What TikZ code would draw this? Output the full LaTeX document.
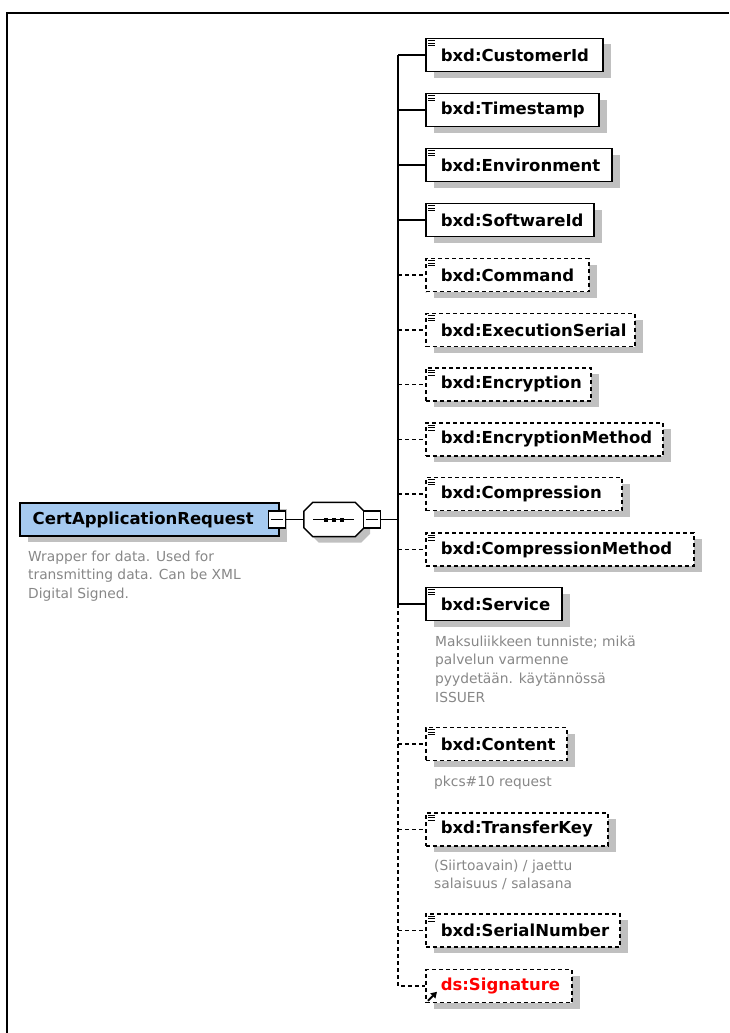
\documentclass[tikz,border=0pt]{standalone}
\usepackage{fontspec}
\setmainfont{DejaVu Sans}
\usetikzlibrary{shadows,arrows.meta}
\definecolor{shadowgray}{RGB}{192,192,192}
\definecolor{rootblue}{RGB}{166,202,240}
\definecolor{desccol}{RGB}{135,135,135}
\definecolor{sigred}{RGB}{255,0,0}
\newcommand{\nameFont}{\fontsize{16.5}{20}\selectfont\bfseries}
\newcommand{\descFont}{\fontsize{13.8}{18.7}\selectfont}
\newcommand{\simpicon}[1]{%
  \draw[iconline] ([shift={(3,3)}]#1.north west) -- ++(7,0)
                  ([shift={(3,5.5)}]#1.north west) -- ++(7,0)
                  ([shift={(3,8)}]#1.north west) -- ++(7,0);}
\tikzset{
  boxshadow/.style={drop shadow={shadow xshift=8pt, shadow yshift=-6pt, fill=shadowgray, opacity=1}},
  elembox/.style={draw, line width=1.5pt, fill=white, boxshadow, anchor=west,
    minimum height=33pt, inner xsep=0pt, inner ysep=0pt, text width=#1pt,
    align=left, font=\nameFont},
  optbox/.style={elembox=#1, dash pattern=on 4pt off 3pt},
  conn/.style={line width=1.3pt},
  optconn/.style={line width=1.3pt, dash pattern=on 4pt off 3pt},
  iconline/.style={line width=0.8pt},
  minusbox/.style={draw, line width=1.2pt, fill=white, minimum size=17pt, inner sep=0pt},
  desctext/.style={font=\descFont, text=desccol, anchor=base west, align=left, inner sep=0pt},
}
\begin{document}
\begin{tikzpicture}[x=1pt,y=-1pt]
\useasboundingbox (0,0) rectangle (729,1033);
% frame
\draw[line width=2pt] (7,1033) -- (7,13) -- (729,13);

% root
\node[draw, line width=1.5pt, fill=rootblue, boxshadow, anchor=west, minimum height=33pt,
  inner xsep=0pt, inner ysep=0pt, text width=259pt, align=left, font=\nameFont]
  (root) at (19,519.5) {\hspace*{13pt}CertApplicationRequest};
% base anchor = baseline of the last line
\node[desctext] (rootdesc) at (28,598.4) {Wrapper for data. Used for\\transmitting data. Can be XML\\Digital Signed.};
\node[minusbox] (m1) at (277,519.5) {};
\draw[line width=1.2pt] ([xshift=3pt]m1.west) -- ([xshift=-3pt]m1.east);

% sequence compositor
\node[minimum width=60pt, minimum height=34pt, inner sep=0pt] (seq) at (334,519.5) {};
\fill[shadowgray] ([shift={(15,6)}]seq.north west) -- ([shift={(-3,6)}]seq.north east)
  -- ([shift={(6,15)}]seq.north east) -- ([shift={(6,-3)}]seq.south east)
  -- ([shift={(-3,6)}]seq.south east) -- ([shift={(15,6)}]seq.south west)
  -- ([shift={(6,-3)}]seq.south west) -- ([shift={(6,15)}]seq.north west) -- cycle;
\draw[line width=1.5pt, fill=white] ([xshift=9pt]seq.north west) -- ([xshift=-9pt]seq.north east)
  -- ([yshift=-9pt]seq.north east) -- ([yshift=9pt]seq.south east)
  -- ([xshift=-9pt]seq.south east) -- ([xshift=9pt]seq.south west)
  -- ([yshift=9pt]seq.south west) -- ([yshift=-9pt]seq.north west) -- cycle;
\draw[line width=1.3pt] ([xshift=-21pt]seq.center) -- ([xshift=20pt]seq.center);
\foreach \dx in {-8,0,8} \fill ([xshift=\dx pt]seq.center) +(-2,-2) rectangle +(2,2);
\node[minusbox] (m2) at (372,519.5) {};
\draw[line width=1.2pt] ([xshift=3pt]m2.west) -- ([xshift=-3pt]m2.east);
\coordinate (bus) at (398,519.5);
\draw[conn] (root.east -| m1.east) -- (seq.west);
\draw[conn] (m2.east) -- (bus);

% children
\node[elembox=177] (cust) at (425,55) {\hspace*{15pt}bxd:CustomerId};
\node[elembox=173] (time) at (425,110) {\hspace*{15pt}bxd:Timestamp};
\node[elembox=186] (env) at (425,165) {\hspace*{15pt}bxd:Environment};
\node[elembox=168] (soft) at (425,220) {\hspace*{15pt}bxd:SoftwareId};
\node[optbox=163] (cmd) at (425,275) {\hspace*{15pt}bxd:Command};
\node[optbox=209] (exec) at (425,330) {\hspace*{15pt}bxd:ExecutionSerial};
\node[optbox=165] (enc) at (425,384.5) {\hspace*{15pt}bxd:Encryption};
\node[optbox=237] (encm) at (425,439.5) {\hspace*{15pt}bxd:EncryptionMethod};
\node[optbox=196] (comp) at (425,494) {\hspace*{15pt}bxd:Compression};
\node[optbox=268] (compm) at (425,549.5) {\hspace*{15pt}bxd:CompressionMethod};
\node[elembox=136] (serv) at (425,604) {\hspace*{15pt}bxd:Service};
\node[desctext] (servdesc) at (435,702.1) {Maksuliikkeen tunniste; mikä\\palvelun varmenne\\pyydetään. käytännössä\\ISSUER};
\node[optbox=141] (cont) at (425,744) {\hspace*{15pt}bxd:Content};
\node[desctext] (contdesc) at (434,786) {pkcs\#10 request};
\node[optbox=182] (tkey) at (425,829.5) {\hspace*{15pt}bxd:TransferKey};
\node[desctext] (tkeydesc) at (434,888.7) {(Siirtoavain) / jaettu\\salaisuus / salasana};
\node[optbox=194] (ser) at (425,930.5) {\hspace*{15pt}bxd:SerialNumber};
\node[optbox=146, text=sigred] (sig) at (425,986) {\hspace*{15pt}ds:Signature};

% icons
\foreach \n in {cust,time,env,soft,cmd,exec,enc,encm,comp,compm,serv,cont,tkey,ser} {\simpicon{\n}}
\draw[line width=2pt, -{Triangle[length=6pt,width=7pt]}] ([shift={(3,-2.5)}]sig.south west) -- ++(9,-9);

% bus and connectors
\draw[conn] (bus |- cust.west) -- (bus |- serv.west);
\draw[optconn] (bus |- serv.west) -- (bus |- sig.west) -- (sig.west);
\foreach \n in {cust,time,env,soft,serv} {\draw[conn] (bus |- \n.west) -- (\n.west);}
\foreach \n in {cmd,exec,enc,encm,comp,compm,cont,tkey,ser} {\draw[optconn] (bus |- \n.west) -- (\n.west);}
\end{tikzpicture}
\end{document}
